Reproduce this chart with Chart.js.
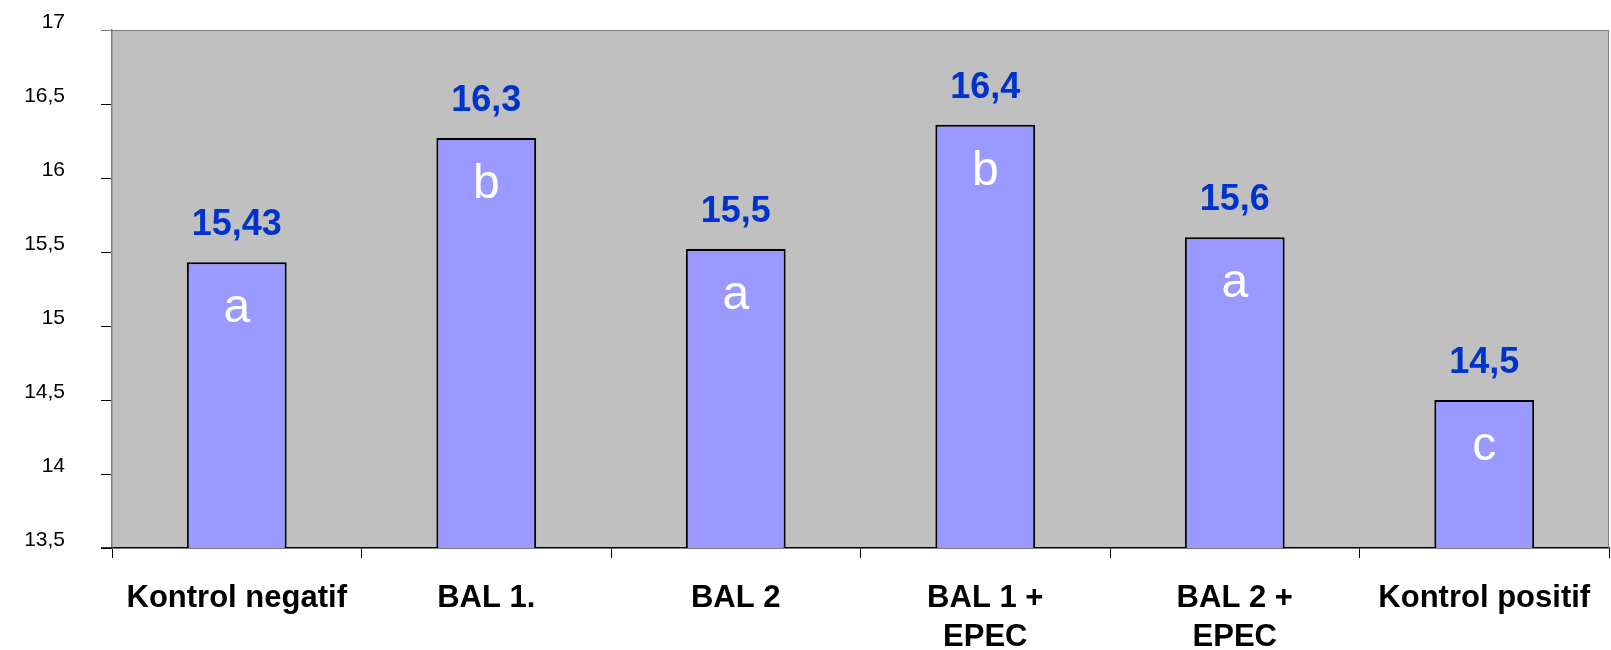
<!DOCTYPE html>
<html>
<head>
<meta charset="utf-8">
<script src="https://cdn.jsdelivr.net/npm/chart.js@4/dist/chart.umd.min.js"></script>
<style>
  html, body { margin: 0; padding: 0; background: #fff; }
  #wrap { width: 1611px; height: 650px; }
</style>
</head>
<body>
<div id="wrap"><canvas id="chart" width="1611" height="650"></canvas></div>
<script>
// ===== Data
const categories = ['Kontrol negatif', 'BAL 1.', 'BAL 2', ['BAL 1 +', 'EPEC'], ['BAL 2 +', 'EPEC'], 'Kontrol positif'];
const values = [15.43, 16.27, 15.52, 16.36, 15.6, 14.5];
const valueLabels = ['15,43', '16,3', '15,5', '16,4', '15,6', '14,5'];
const groupLetters = ['a', 'b', 'a', 'b', 'a', 'c'];
const yTicks = [13.5, 14, 14.5, 15, 15.5, 16, 16.5, 17];

const FONT = '"Liberation Sans", Arial, sans-serif';

// ===== Plot background + borders
const plotArea = {
  id: 'plotArea',
  beforeDraw(chart) {
    const { ctx, chartArea: a } = chart;
    ctx.save();
    ctx.fillStyle = '#c0c0c0';
    ctx.fillRect(a.left, a.top, a.right - a.left, a.bottom - a.top);
    ctx.restore();
  },
  afterDraw(chart) {
    const { ctx, chartArea: a } = chart;
    ctx.save();
    ctx.lineWidth = 1;
    ctx.strokeStyle = '#808080';
    ctx.beginPath();
    ctx.moveTo(a.left - 11, a.top + 0.5);
    ctx.lineTo(a.right, a.top + 0.5);
    ctx.moveTo(a.right - 0.5, a.top);
    ctx.lineTo(a.right - 0.5, a.bottom);
    ctx.stroke();
    ctx.strokeStyle = '#000';
    ctx.lineWidth = 1.5;
    ctx.beginPath();
    ctx.moveTo(a.left - 11, a.bottom);
    ctx.lineTo(a.left, a.bottom);
    ctx.stroke();
    ctx.restore();
  }
};

// ===== Value labels above bars + letters inside
const barLabels = {
  id: 'barLabels',
  afterDatasetsDraw(chart) {
    const { ctx } = chart;
    const meta = chart.getDatasetMeta(0);
    ctx.save();
    ctx.textAlign = 'center';
    ctx.textBaseline = 'alphabetic';
    meta.data.forEach((bar, i) => {
      ctx.font = 'bold 36px ' + FONT;
      ctx.fillStyle = '#0033cc';
      ctx.fillText(valueLabels[i], bar.x, bar.y - 27);
      ctx.font = '48px ' + FONT;
      ctx.fillStyle = '#ffffff';
      ctx.fillText(groupLetters[i], bar.x, bar.y + 60);
    });
    ctx.restore();
  }
};

new Chart(document.getElementById('chart'), {
  type: 'bar',
  data: {
    labels: categories,
    datasets: [{
      data: values,
      backgroundColor: '#9999ff',
      borderColor: '#000000',
      borderWidth: 2,
      categoryPercentage: 1,
      barPercentage: 0.4
    }]
  },
  options: {
    responsive: false,
    animation: false,
    layout: { padding: { top: 30, right: 2, left: 0, bottom: 0 } },
    plugins: {
      legend: { display: false },
      tooltip: { enabled: false }
    },
    scales: {
      x: {
        grid: { offset: true, drawOnChartArea: false, drawTicks: true, tickLength: 10, color: '#000' },
        border: { display: true, color: '#000', width: 1.5 },
        ticks: {
          color: '#000',
          font: { family: FONT, size: 31, weight: 'bold', lineHeight: 1.26 },
          padding: 21,
          maxRotation: 0,
          autoSkip: false
        },
        afterFit(scale) { scale.height = 102; scale.paddingLeft = 0; scale.paddingRight = 0; }
      },
      y: {
        min: 13.5,
        max: 17,
        afterBuildTicks(scale) { scale.ticks = yTicks.map(v => ({ value: v })); },
        grid: { drawOnChartArea: false, drawTicks: true, tickLength: 11, color: '#000' },
        border: { display: true, color: '#808080', width: 1.5 },
        ticks: {
          color: '#000',
          font: { family: FONT, size: 21 },
          padding: 36,
          labelOffset: -8,
          callback: v => String(v).replace('.', ',')
        },
        afterFit(scale) { scale.width = 112; scale.paddingTop = 0; scale.paddingBottom = 0; }
      }
    }
  },
  plugins: [plotArea, barLabels]
});
</script>
</body>
</html>
